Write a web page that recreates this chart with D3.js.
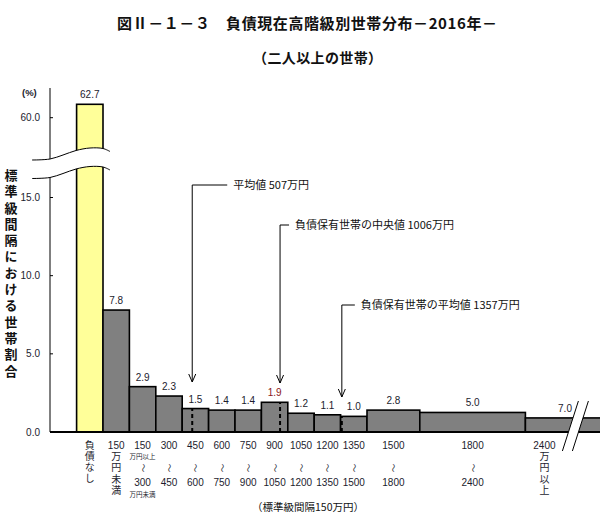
<!DOCTYPE html>
<html><head><meta charset="utf-8">
<script src="https://cdn.jsdelivr.net/npm/d3@7"></script>
<style>body{margin:0;background:#fff;overflow:hidden}</style>
</head><body><svg id="c" width="600" height="516"></svg>
<script>
// ---------------- data ----------------
const titleText = "図Ⅱ－１－３　負債現在高階級別世帯分布－2016年－";
const subtitleText = "（二人以上の世帯）";
const yAxisTitle = "標準級間隔における世帯割合";
const unitLabel = "(%)";
const xNote = "（標準級間隔150万円）";
// bin bounds in 万円 ("負債なし" drawn as one standard interval left of 0)
const binLow  = [-150, 0, 150, 300, 450, 600, 750, 900, 1050, 1200, 1350, 1500, 1800, 2400];
const binHigh = [0, 150, 300, 450, 600, 750, 900, 1050, 1200, 1350, 1500, 1800, 2400, 2850];
// share of households (%) shown as labels
const shares  = [62.7, 7.8, 2.9, 2.3, 1.5, 1.4, 1.4, 1.9, 1.2, 1.1, 1.0, 2.8, 5.0, 7.0];
// bar height per standard interval
const heights = [62.7, 7.8, 2.9, 2.3, 1.5, 1.4, 1.4, 1.9, 1.2, 1.1, 1.0, 1.4, 1.25, 0.9];
const xTop    = ["", "150", "150", "300", "450", "600", "750", "900", "1050", "1200", "1350", "1500", "1800", "2400"];
const xBottom = ["", "", "300", "450", "600", "750", "900", "1050", "1200", "1350", "1500", "1800", "2400", ""];
const xVertical = ["負債なし", "万円未満", "", "", "", "", "", "", "", "", "", "", "", "万円以上"];
const xSmallTop = ["", "", "万円以上", "", "", "", "", "", "", "", "", "", "", ""];
const xSmallBottom = ["", "", "万円未満", "", "", "", "", "", "", "", "", "", "", ""];
const lowerTicks = [0, 5, 10, 15];
const upperTicks = [60];
const markerValues = [507, 1006, 1357];
const markerLabels = ["平均値 507万円", "負債保有世帯の中央値 1006万円", "負債保有世帯の平均値 1357万円"];

// ---------------- layout ----------------
const svg = d3.select("#c");
const FONT = "'Liberation Sans', 'Noto Sans CJK JP', sans-serif";
const JFONT = "'Noto Sans CJK JP', 'Liberation Sans', sans-serif";
const TXT = "#1c1c2e";

const x = d3.scaleLinear().domain([0, 2400]).range([103, 525.4]);
const yLow = d3.scaleLinear().domain([0, 15]).range([432, 197.5]);
const yUp = d3.scaleLinear().domain([60, 62.7]).range([117.7, 104.3]);
const axisX = 50, baseY = 432;

const bins = shares.map((s, i) => ({i, lo: binLow[i], hi: binHigh[i], share: s, h: heights[i]}));
const medianBin = bins.findIndex(b => markerValues[1] >= b.lo && markerValues[1] < b.hi);

function vtext(parent, cx, yStart, str, size, spacing) {
  return parent.append("text")
    .attr("x", cx).attr("y", yStart)
    .style("writing-mode", "vertical-rl")
    .style("text-orientation", "upright")
    .style("letter-spacing", spacing + "px")
    .attr("font-family", JFONT).attr("font-size", size)
    .text(str);
}

// title
svg.append("text").attr("x", 117).attr("y", 29).attr("textLength", 380).attr("lengthAdjust", "spacing")
  .attr("font-family", JFONT).attr("font-size", 15).attr("font-weight", "bold").attr("fill", "#111").text(titleText);
svg.append("text").attr("x", 253).attr("y", 63).attr("textLength", 129).attr("lengthAdjust", "spacing")
  .attr("font-family", JFONT).attr("font-size", 14).attr("font-weight", "bold").attr("fill", "#111").text(subtitleText);

// y axis title (vertical)
vtext(svg, 11, 168.5, yAxisTitle, 13, 3.3).attr("font-weight", "bold").attr("fill", "#111");

// bars
const barG = svg.append("g");
barG.selectAll("rect").data(bins).join("rect")
  .attr("x", d => x(d.lo))
  .attr("width", d => x(d.hi) - x(d.lo))
  .attr("y", d => d.i === 0 ? yUp(d.h) : yLow(d.h))
  .attr("height", d => baseY - (d.i === 0 ? yUp(d.h) : yLow(d.h)))
  .attr("fill", d => d.i === 0 ? "#FFFF99" : "#808080")
  .attr("stroke", "#000").attr("stroke-width", 1.6);

// dashed marker lines inside bars
markerValues.forEach(v => {
  const b = bins.find(b => v >= b.lo && v < b.hi);
  svg.append("line").attr("x1", x(v)).attr("x2", x(v)).attr("y1", baseY).attr("y2", yLow(b.h))
    .attr("stroke", "#000").attr("stroke-width", 2).attr("stroke-dasharray", "4,3");
});

// y axis line
svg.append("line").attr("x1", axisX).attr("x2", axisX).attr("y1", 88).attr("y2", baseY)
  .attr("stroke", "#000").attr("stroke-width", 1);
// ticks
lowerTicks.forEach(t => {
  svg.append("line").attr("x1", axisX).attr("x2", axisX + 3).attr("y1", yLow(t)).attr("y2", yLow(t)).attr("stroke", "#000");
  svg.append("text").attr("x", 40).attr("y", yLow(t) + 3.5).attr("text-anchor", "end")
    .attr("font-family", FONT).attr("font-size", 10).attr("fill", TXT).text(d3.format(".1f")(t));
});
upperTicks.forEach(t => {
  svg.append("line").attr("x1", axisX).attr("x2", axisX + 3).attr("y1", yUp(t)).attr("y2", yUp(t)).attr("stroke", "#000");
  svg.append("text").attr("x", 40).attr("y", yUp(t) + 3.5).attr("text-anchor", "end")
    .attr("font-family", FONT).attr("font-size", 10).attr("fill", TXT).text(d3.format(".1f")(t));
});
svg.append("text").attr("x", 22).attr("y", 96).attr("font-family", FONT).attr("font-size", 9.5)
  .attr("font-weight", "bold").attr("fill", TXT).text(unitLabel);

// y-axis break (two waves with white band)
const wave = [[32, 0.5], [50, -0.5], [63, -4.5], [76, -9], [90, -11.5], [103, -11], [110, -8]];
const w1 = wave.map(p => [p[0], 159.5 + p[1]]);
const w2 = wave.map(p => [p[0], 178 + p[1]]);
const ln = d3.line().curve(d3.curveCatmullRom);
svg.append("path").attr("d", d3.area().curve(d3.curveCatmullRom).x(d => d[0]).y0(d => d[1]).y1(d => d[1] + 18.5)(w1))
  .attr("fill", "#fff");
svg.append("path").attr("d", ln(w1)).attr("fill", "none").attr("stroke", "#000").attr("stroke-width", 1);
svg.append("path").attr("d", ln(w2)).attr("fill", "none").attr("stroke", "#000").attr("stroke-width", 1);

// baseline
svg.append("line").attr("x1", axisX).attr("x2", 600).attr("y1", baseY).attr("y2", baseY)
  .attr("stroke", "#000").attr("stroke-width", 2.2);

// x-axis break at right
const bx = x(2400) + 48;
svg.append("path").attr("d", `M${bx + 5},401 L${bx + 15},401 L${bx - 1},451 L${bx - 11},451 Z`)
  .attr("fill", "#fff");
[-5, 5].forEach(o => {
  svg.append("line").attr("x1", bx + o + 10).attr("y1", 401).attr("x2", bx + o - 6).attr("y2", 451)
    .attr("stroke", "#000").attr("stroke-width", 1);
});

// value labels
svg.selectAll("text.val").data(bins).join("text").attr("class", "val")
  .attr("x", d => (x(d.lo) + x(d.hi)) / 2)
  .attr("y", d => (d.i === 0 ? yUp(d.h) : yLow(d.h)) - 6)
  .attr("text-anchor", "middle").attr("font-family", FONT).attr("font-size", 10)
  .attr("fill", d => d.i === medianBin ? "#8b1a1a" : TXT)
  .text(d => d3.format(".1f")(d.share));

// x labels
bins.forEach(d => {
  const last = d.i === bins.length - 1;
  const cx = last ? x(d.lo) + 19 : (x(d.lo) + x(d.hi)) / 2;
  const g = svg.append("g").attr("font-family", FONT).attr("fill", TXT).attr("text-anchor", "middle");
  let vy = 440;
  if (xTop[d.i]) {
    g.append("text").attr("x", cx).attr("y", 449).attr("font-size", 10).text(xTop[d.i]);
    vy = 451.5;
  }
  if (xVertical[d.i]) {
    vtext(g, cx, vy, xVertical[d.i], 10, 1.2).attr("text-anchor", "start");
  }
  if (xSmallTop[d.i]) {
    g.append("text").attr("x", cx).attr("y", 459).attr("font-size", 6.5).attr("font-family", JFONT).text(xSmallTop[d.i]);
  }
  if (xBottom[d.i]) {
    g.append("text").attr("transform", `translate(${cx},468) rotate(90)`).attr("y", 3)
      .attr("font-size", 9).attr("font-family", JFONT).text("～");
    g.append("text").attr("x", cx).attr("y", 486).attr("font-size", 10).text(xBottom[d.i]);
  }
  if (xSmallBottom[d.i]) {
    g.append("text").attr("x", cx).attr("y", 497).attr("font-size", 6.5).attr("font-family", JFONT).text(xSmallBottom[d.i]);
  }
});

// x note
svg.append("text").attr("x", 308).attr("y", 511).attr("text-anchor", "middle")
  .attr("font-family", JFONT).attr("font-size", 10.5).attr("fill", "#111").text(xNote);

// annotations
const annY = [185, 225, 305], tipY = [382, 383, 397], armLen = [35, 9, 13];
markerValues.forEach((v, k) => {
  const ax = x(v);
  const g = svg.append("g").attr("stroke", "#000").attr("stroke-width", 1).attr("fill", "none");
  g.append("path").attr("d", `M${ax + armLen[k]},${annY[k]} H${ax} V${tipY[k]}`);
  g.append("path").attr("d", `M${ax - 3.5},${tipY[k] - 8} L${ax},${tipY[k]} L${ax + 3.5},${tipY[k] - 8}`);
  svg.append("text").attr("x", ax + armLen[k] + 6).attr("y", annY[k] + 4)
    .attr("font-family", JFONT).attr("font-size", 11).attr("fill", "#111").text(markerLabels[k]);
});
</script></body></html>
